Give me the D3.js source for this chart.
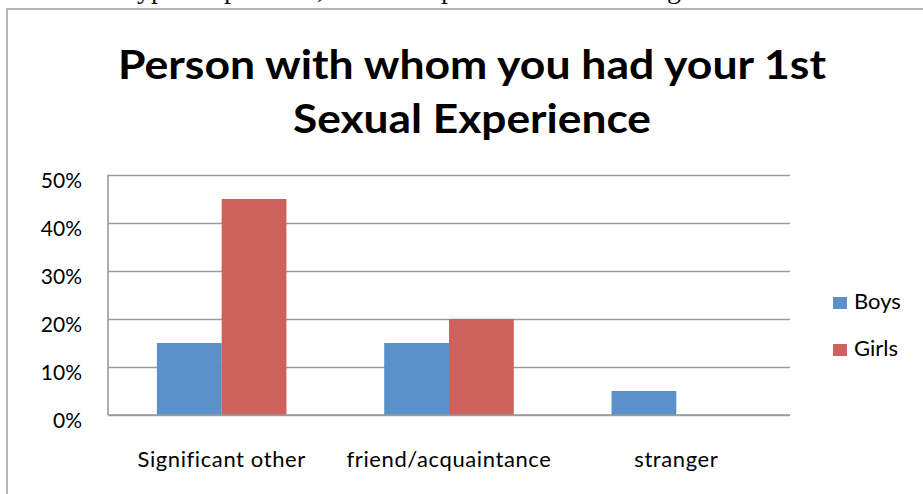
<!DOCTYPE html>
<html>
<head>
<meta charset="utf-8">
<script src="https://cdn.jsdelivr.net/npm/d3@7"></script>
<style>
  html, body { margin: 0; padding: 0; background: #fff; }
  svg { display: block; }
</style>
</head>
<body>
<svg id="chart" width="923" height="494"></svg>
<script>
// Data
const categories = ["Significant other", "friend/acquaintance", "stranger"];
const seriesNames = ["Boys", "Girls"];
const boys = [15, 15, 5];
const girls = [45, 20, 0];
const yTicks = [0, 10, 20, 30, 40, 50];
const titleLines = ["Person with whom you had your 1st", "Sexual Experience"];

const colors = { Boys: "#5b91ca", Girls: "#cc625b" };
const uiFont = "Lato, 'Open Sans', sans-serif";

const svg = d3.select("#chart");
const W = 923, H = 494;

// Tail of the running text line above the chart frame.
// Each word is placed so that its descending glyph starts at the given x.
const bodyLine = svg.append("text")
  .attr("y", -2.5)
  .attr("font-family", "'Liberation Serif', serif")
  .attr("font-size", 28)
  .attr("fill", "#111");
const bodyWords = [["typical", 1, 137], ["upon", 1, 224], ["them,", 4, 317], ["experience", 2, 441], ["being", 4, 667]];
bodyWords.forEach(([w, idx, gx]) => {
  const ts = bodyLine.append("tspan").attr("x", 0).text(w);
  const off = idx > 0 ? ts.node().getSubStringLength(0, idx) : 0;
  ts.attr("x", gx - off);
});

// Chart frame
svg.append("rect")
  .attr("x", 7).attr("y", 9)
  .attr("width", W + 20).attr("height", H + 20)
  .attr("fill", "#fff")
  .attr("stroke", "#b4b4b4")
  .attr("stroke-width", 2);

// Title
const title = svg.append("text")
  .attr("font-family", uiFont)
  .attr("font-weight", 700)
  .attr("font-size", 40)
  .attr("fill", "#000")
  .attr("text-anchor", "middle");
const titleWidths = [708, 358];
titleLines.forEach((t, i) => {
  title.append("tspan")
    .attr("x", 472)
    .attr("y", 79 + i * 54)
    .attr("textLength", titleWidths[i])
    .attr("lengthAdjust", "spacingAndGlyphs")
    .text(t);
});

// Plot area
const plotLeft = 108, plotRight = 790;
const x0 = d3.scaleBand()
  .domain(categories)
  .range([plotLeft, plotRight])
  .paddingInner(0.43)
  .paddingOuter(0.215);
const x1 = d3.scaleBand()
  .domain(seriesNames)
  .range([0, x0.bandwidth()]);
const y = d3.scaleLinear()
  .domain([0, 50])
  .range([415, 175]);

// Gridlines and value axis
const gy = svg.append("g")
  .attr("transform", `translate(${plotLeft},0)`)
  .call(d3.axisLeft(y)
    .tickValues(yTicks)
    .tickSize(-(plotRight - plotLeft))
    .tickFormat(d => d + "%")
    .tickPadding(26));
gy.select(".domain").remove();
gy.selectAll(".tick line")
  .attr("stroke", "#9a9a9a")
  .attr("stroke-width", 1.6);
gy.selectAll(".tick text")
  .attr("font-family", uiFont)
  .attr("font-size", 21)
  .attr("fill", "#000")
  .attr("dy", "0.72em")
  .attr("y", -2.5);

// Bars
const rows = categories.map((c, i) => ({ cat: c, Boys: boys[i], Girls: girls[i] }));
svg.append("g")
  .selectAll("g")
  .data(rows)
  .join("g")
  .attr("transform", d => `translate(${x0(d.cat)},0)`)
  .selectAll("rect")
  .data(d => seriesNames.map(s => ({ key: s, value: d[s] })))
  .join("rect")
  .attr("x", d => x1(d.key))
  .attr("width", x1.bandwidth())
  .attr("y", d => y(d.value))
  .attr("height", d => y(0) - y(d.value))
  .attr("fill", d => colors[d.key]);

// Left axis line and baseline
svg.append("line")
  .attr("x1", plotLeft).attr("x2", plotLeft)
  .attr("y1", y(50)).attr("y2", y(0))
  .attr("stroke", "#9a9a9a").attr("stroke-width", 1.6);
svg.append("line")
  .attr("x1", plotLeft).attr("x2", plotRight)
  .attr("y1", y(0)).attr("y2", y(0))
  .attr("stroke", "#9a9a9a").attr("stroke-width", 1.6);

// Category axis labels
const gx = svg.append("g")
  .attr("transform", `translate(0,${y(0)})`)
  .call(d3.axisBottom(x0).tickSize(0).tickPadding(36));
gx.select(".domain").remove();
gx.selectAll(".tick text")
  .attr("font-family", uiFont)
  .attr("font-size", 22)
  .attr("fill", "#000")
  .attr("letter-spacing", 0.6);

// Legend
const legend = svg.append("g").attr("transform", "translate(833,297)");
seriesNames.forEach((s, i) => {
  const g = legend.append("g").attr("transform", `translate(0,${i * 47})`);
  g.append("rect").attr("width", 14).attr("height", 12).attr("fill", colors[s]);
  g.append("text")
    .attr("x", 21).attr("y", 12)
    .attr("font-family", uiFont)
    .attr("font-size", 22)
    .attr("fill", "#000")
    .text(s);
});
</script>
</body>
</html>
